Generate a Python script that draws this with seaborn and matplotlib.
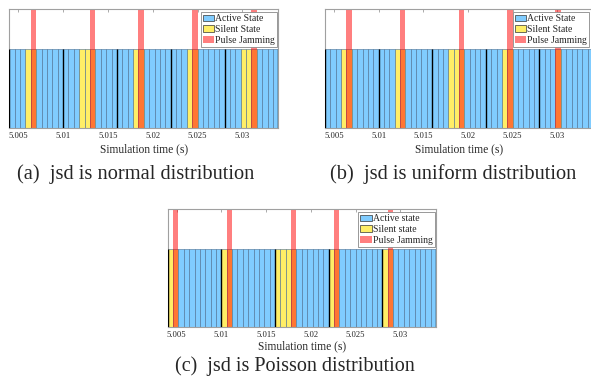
# slot-state timelines under pulse jamming, three jsd distributions

import pandas as pd
import matplotlib
matplotlib.use("Agg")
import matplotlib.pyplot as plt
from matplotlib.patches import Patch
import seaborn as sns

# frames of 10 slots each
frame_starts = [5.004, 5.010, 5.016, 5.022, 5.028]
x_end = 5.034
slots_per_frame = 10
slot_len = 0.0006

# silent slots (index within frame) and the jammed slot, per frame
silent_a = [[3, 4], [3, 4, 5], [3, 4], [3, 4], [3, 4, 5]]
jam_a = [4, 5, 4, 4, 5]
silent_b = [[3, 4], [3, 4], [3, 4, 5], [3, 4], [3]]
jam_b = [4, 4, 5, 4, 3]
silent_c = [[0, 1], [0, 1], [0, 1, 2, 3], [0, 1], [0, 1]]
jam_c = [1, 1, 3, 1, 1]

tick_vals = [5.005, 5.01, 5.015, 5.02, 5.025, 5.03]
tick_labels = ["5.005", "5.01", "5.015", "5.02", "5.025", "5.03"]

legend_ab = ["Active State", "Silent State", "Pulse Jamming"]
legend_c = ["Active state", "Silent state", "Pulse Jamming"]
captions = ["(a)  jsd is normal distribution",
            "(b)  jsd is uniform distribution",
            "(c)  jsd is Poisson distribution"]

blue = "#80ccff"
yellow = "#ffee66"
red = "#ff0000"

sns.set_theme(style="white")
plt.rcParams['font.family'] = ['Liberation Serif', 'DejaVu Serif']


def slot_table(silent, jam):
    rows = []
    for f, start in enumerate(frame_starts):
        for k in range(slots_per_frame):
            t = round(start + (k + 0.5) * slot_len, 6)
            state = "silent" if k in silent[f] else "active"
            rows.append((t, state, 1.0, 1.5 if k == jam[f] else 0.0))
    return pd.DataFrame(rows, columns=["t", "state", "h", "jam_h"])


def draw(ax, df, labels, leg_dx=0.0, xlab_pad=2.5):
    sns.barplot(data=df, x="t", y="h", hue="state",
                palette={"active": blue, "silent": yellow},
                native_scale=True, width=1, dodge=False, errorbar=None,
                saturation=1, legend=False, edgecolor="#4a6d90",
                linewidth=0.4, ax=ax)
    sns.barplot(data=df, x="t", y="jam_h", color=red, alpha=0.5,
                native_scale=True, width=1, errorbar=None, saturation=1,
                linewidth=0, ax=ax)
    ax.vlines(frame_starts + [x_end], 0, 1, color="black", lw=1.0, zorder=3)

    ax.set_xlim(frame_starts[0], x_end)
    ax.set_ylim(0, 1.5)
    ax.set_yticks([])
    ax.set_xticks(tick_vals)
    ax.set_xticklabels(tick_labels)
    ax.set_axisbelow(True)
    ax.tick_params(axis="x", direction="in", top=True, bottom=True,
                   length=2.5, width=0.5, color="#888888", pad=3,
                   labelsize=6.2)
    ax.set_xlabel("Simulation time (s)", fontsize=8.3, labelpad=xlab_pad)
    ax.set_ylabel("")
    for sp in ax.spines.values():
        sp.set_color("#a0a0a0")
        sp.set_linewidth(0.8)

    handles = [Patch(facecolor=blue, edgecolor="#333333", lw=0.5),
               Patch(facecolor=yellow, edgecolor="#333333", lw=0.5),
               Patch(facecolor=red, alpha=0.5, lw=0)]
    leg = ax.legend(handles, labels, loc="upper right",
                    bbox_to_anchor=(0.995 - leg_dx, 0.975), borderaxespad=0,
                    fontsize=7, handlelength=1.2, handleheight=0.65,
                    handletextpad=0.1, labelspacing=0.18, borderpad=0.2,
                    fancybox=False, framealpha=1, edgecolor="#888888")
    leg.get_frame().set_linewidth(0.6)
    leg.set_zorder(5)


fig = plt.figure(figsize=(5.91, 3.81), dpi=100)
W, H = 591, 381

ax_a = fig.add_axes([9.3 / W, 1 - 127.7 / H, 269 / W, 118.4 / H])
ax_b = fig.add_axes([325 / W, 1 - 127.7 / H, 268 / W, 118.4 / H])
ax_c = fig.add_axes([167.7 / W, 1 - 327.3 / H, 268.3 / W, 118 / H])

draw(ax_a, slot_table(silent_a, jam_a), legend_ab)
draw(ax_b, slot_table(silent_b, jam_b), legend_ab, leg_dx=0.01)
draw(ax_c, slot_table(silent_c, jam_c), legend_c, xlab_pad=0.8)

fig.text(136 / W, 1 - 174 / H, captions[0], ha="center", va="center", fontsize=14.7)
fig.text(453 / W, 1 - 174 / H, captions[1], ha="center", va="center", fontsize=14.7)
fig.text(295 / W, 1 - 366 / H, captions[2], ha="center", va="center", fontsize=14.5)

fig.savefig("out.png", dpi=100)
